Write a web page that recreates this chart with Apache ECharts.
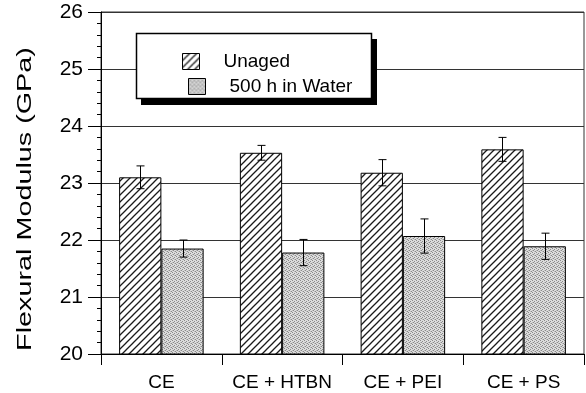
<!DOCTYPE html>
<html>
<head>
<meta charset="utf-8">
<script src="https://cdn.jsdelivr.net/npm/echarts@6/dist/echarts.min.js"></script>
<style>
  html, body { margin: 0; padding: 0; background: #fff; }
  #chart { width: 586px; height: 393px; }
</style>
</head>
<body>
<div id="chart"></div>
<script>
// Flexural modulus of cyanate ester blends, unaged vs. 500 h water immersion
var categories = ['CE', 'CE + HTBN', 'CE + PEI', 'CE + PS'];
var unaged = [23.10, 23.53, 23.18, 23.59];
var unagedErr = [0.20, 0.13, 0.23, 0.21];
var water = [21.85, 21.78, 22.07, 21.89];
var waterErr = [0.15, 0.23, 0.30, 0.23];
var yTicks = [20, 21, 22, 23, 24, 25, 26];

var FONT = "'Liberation Sans', Arial, Helvetica, sans-serif";
var BAR_RATIO = 0.35;

// diagonal hatch fill
function hatchPattern() {
  var s = 7, c = document.createElement('canvas');
  c.width = s; c.height = s;
  var g = c.getContext('2d');
  g.fillStyle = '#fff'; g.fillRect(0, 0, s, s);
  g.strokeStyle = '#1a1a1a'; g.lineWidth = 1.3;
  g.beginPath();
  g.moveTo(0, s); g.lineTo(s, 0);
  g.moveTo(-1, 1); g.lineTo(1, -1);
  g.moveTo(s - 1, s + 1); g.lineTo(s + 1, s - 1);
  g.stroke();
  return c;
}

// fine grey stipple fill
function stipplePattern() {
  var c = document.createElement('canvas');
  c.width = 4; c.height = 4;
  var g = c.getContext('2d');
  g.fillStyle = '#dcdcdc'; g.fillRect(0, 0, 4, 4);
  g.fillStyle = '#8a8a8a';
  [[0, 0], [2, 1], [1, 2], [3, 3]].forEach(function (p) { g.fillRect(p[0], p[1], 1, 1); });
  g.fillStyle = '#bcbcbc';
  [[2, 3], [0, 2]].forEach(function (p) { g.fillRect(p[0], p[1], 1, 1); });
  return c;
}

var hatchFill = { image: hatchPattern(), repeat: 'repeat' };
var stippleFill = { image: stipplePattern(), repeat: 'repeat' };

function errData(vals, errs) {
  return vals.map(function (v, i) { return [i, v, errs[i]]; });
}

function errorBars(side) {
  return function (params, api) {
    var i = api.value(0), v = api.value(1), e = api.value(2);
    var bw = api.size([1, 0])[0] * BAR_RATIO;
    var x = Math.round(api.coord([i, v])[0] + side * bw / 2) + 0.5;
    var top = api.coord([i, v + e])[1];
    var bot = api.coord([i, v - e])[1];
    var st = { stroke: '#000', lineWidth: 1 };
    return {
      type: 'group',
      children: [
        { type: 'line', shape: { x1: x, y1: top, x2: x, y2: bot }, style: st },
        { type: 'line', shape: { x1: x - 4, y1: top, x2: x + 4, y2: top }, style: st },
        { type: 'line', shape: { x1: x - 4, y1: bot, x2: x + 4, y2: bot }, style: st }
      ]
    };
  };
}

var chart = echarts.init(document.getElementById('chart'));
chart.setOption({
  animation: false,
  backgroundColor: '#fff',
  grid: {
    left: 101, right: 2, top: 12, bottom: 39,
    show: true, borderColor: '#333', borderWidth: 1
  },
  xAxis: {
    type: 'category',
    data: categories,
    axisLine: { lineStyle: { color: '#000', width: 1 } },
    axisTick: { show: true, length: 11, lineStyle: { color: '#000' } },
    axisLabel: { interval: 0, color: '#000', fontSize: 19, fontFamily: FONT, margin: 19 }
  },
  yAxis: {
    type: 'value',
    min: yTicks[0],
    max: yTicks[yTicks.length - 1],
    interval: 1,
    splitNumber: yTicks.length - 1,
    axisLine: { show: true, lineStyle: { color: '#000', width: 1 } },
    axisTick: { show: true, length: 13, lineStyle: { color: '#000' } },
    minorTick: { show: true, splitNumber: 5, length: 4, lineStyle: { color: '#000' } },
    splitLine: { show: true, lineStyle: { color: '#333', width: 1 } },
    axisLabel: { color: '#000', fontSize: 21, fontFamily: FONT, margin: 18 }
  },
  legend: [
    {
      data: [{ name: 'Unaged', itemStyle: { color: hatchFill, borderColor: '#000', borderWidth: 1 } }],
      left: 177, top: 47, itemWidth: 17, itemHeight: 16, icon: 'rect', z: 100,
      selectedMode: false,
      textStyle: { color: '#000', fontSize: 19, fontFamily: FONT, padding: [0, 0, 0, 19] }
    },
    {
      data: [{ name: '500 h in Water', itemStyle: { color: stippleFill, borderColor: '#000', borderWidth: 1 } }],
      left: 183, top: 72, itemWidth: 17, itemHeight: 16, icon: 'rect', z: 100,
      selectedMode: false,
      textStyle: { color: '#000', fontSize: 19, fontFamily: FONT, padding: [0, 0, 0, 19] }
    }
  ],
  graphic: [
    { type: 'rect', z: 50, shape: { x: 141, y: 39, width: 236, height: 66 }, style: { fill: '#000' } },
    { type: 'rect', z: 51, shape: { x: 136.5, y: 33.5, width: 235, height: 65 },
      style: { fill: '#fff', stroke: '#000', lineWidth: 1.5 } },
    { type: 'text', z: 51, x: 25.5, y: 199, rotation: Math.PI / 2, scaleX: 1.37,
      style: { text: 'Flexural Modulus (GPa)', font: '21px ' + FONT, fill: '#000',
        align: 'center', verticalAlign: 'middle' } }
  ],
  series: [
    {
      name: 'Unaged', type: 'bar', data: unaged,
      barWidth: (BAR_RATIO * 100) + '%', barGap: '0%',
      itemStyle: { color: hatchFill, borderColor: '#000', borderWidth: 1 }
    },
    {
      name: '500 h in Water', type: 'bar', data: water,
      barWidth: (BAR_RATIO * 100) + '%', barGap: '0%',
      itemStyle: { color: stippleFill, borderColor: '#000', borderWidth: 1 }
    },
    {
      name: 'unaged-err', type: 'custom', z: 10,
      renderItem: errorBars(-1), data: errData(unaged, unagedErr),
      encode: { x: 0, y: 1 }
    },
    {
      name: 'water-err', type: 'custom', z: 10,
      renderItem: errorBars(1), data: errData(water, waterErr),
      encode: { x: 0, y: 1 }
    }
  ]
});
</script>
</body>
</html>
